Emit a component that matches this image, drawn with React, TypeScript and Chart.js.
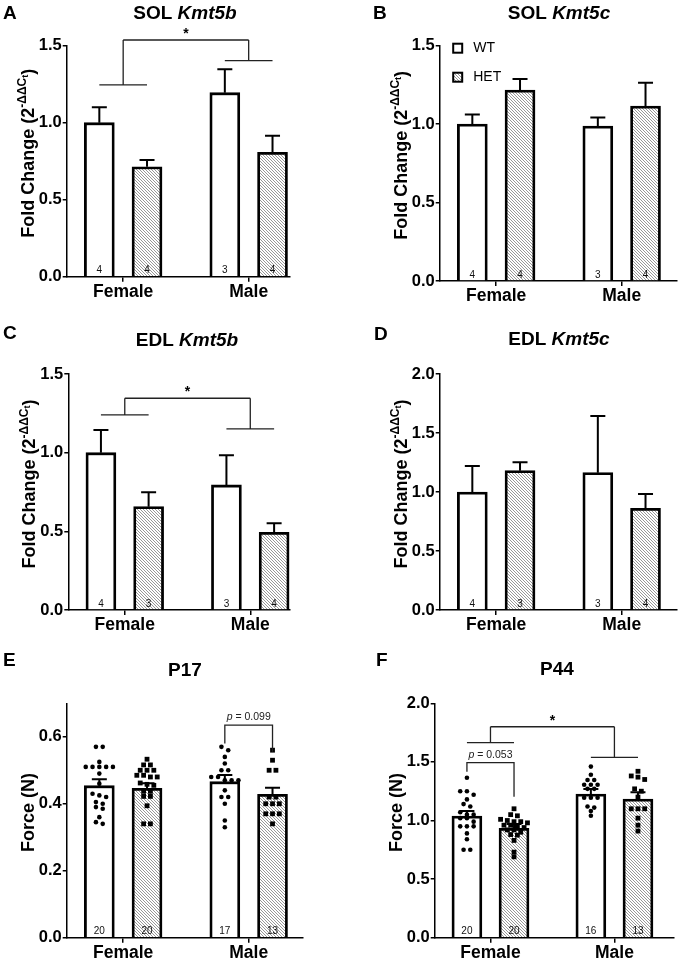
import React, { useEffect, useRef } from "react";
import { Chart, registerables } from "chart.js";

Chart.register(...registerables);

const FF = "'Liberation Sans', Arial, Helvetica, sans-serif";

// ---------------- data ----------------
const groups = ["Female", "Male"];

// A: SOL Kmt5b (fold change, mean and SEM)
const solKmt5bWT = [1.0, 1.195];
const solKmt5bWTSem = [0.1, 0.152];
const solKmt5bHET = [0.714, 0.808];
const solKmt5bHETSem = [0.044, 0.108];
const solKmt5bNWT = [4, 3];
const solKmt5bNHET = [4, 4];

// B: SOL Kmt5c
const solKmt5cWT = [1.0, 0.988];
const solKmt5cWTSem = [0.062, 0.055];
const solKmt5cHET = [1.217, 1.115];
const solKmt5cHETSem = [0.07, 0.149];
const solKmt5cNWT = [4, 3];
const solKmt5cNHET = [4, 4];

// C: EDL Kmt5b
const edlKmt5bWT = [1.0, 0.795];
const edlKmt5bWTSem = [0.144, 0.188];
const edlKmt5bHET = [0.657, 0.494];
const edlKmt5bHETSem = [0.091, 0.057];
const edlKmt5bNWT = [4, 3];
const edlKmt5bNHET = [3, 4];

// D: EDL Kmt5c
const edlKmt5cWT = [1.0, 1.164];
const edlKmt5cWTSem = [0.22, 0.48];
const edlKmt5cHET = [1.181, 0.862];
const edlKmt5cHETSem = [0.071, 0.121];
const edlKmt5cNWT = [4, 3];
const edlKmt5cNHET = [3, 4];

// E: P17 force (N)
const p17WT = [0.454, 0.466];
const p17WTSem = [0.019, 0.02];
const p17HET = [0.446, 0.428];
const p17HETSem = [0.015, 0.02];
const p17NWT = [20, 17];
const p17NHET = [20, 13];
const p17FemaleWTPts = [0.57, 0.57, 0.525, 0.51, 0.51, 0.51, 0.51, 0.51, 0.49, 0.46, 0.43, 0.425, 0.42, 0.405, 0.4, 0.39, 0.385, 0.36, 0.345, 0.34];
const p17FemaleHETPts = [0.533, 0.516, 0.516, 0.5, 0.5, 0.5, 0.485, 0.485, 0.48, 0.48, 0.462, 0.458, 0.455, 0.437, 0.437, 0.422, 0.422, 0.394, 0.34, 0.34];
const p17MaleWTPts = [0.57, 0.56, 0.54, 0.52, 0.5, 0.5, 0.48, 0.48, 0.47, 0.47, 0.47, 0.44, 0.42, 0.42, 0.4, 0.35, 0.33];
const p17MaleHETPts = [0.56, 0.53, 0.5, 0.5, 0.42, 0.42, 0.4, 0.4, 0.4, 0.37, 0.37, 0.37, 0.34];

// F: P44 force (N)
const p44WT = [1.038, 1.226];
const p44WTSem = [0.043, 0.043];
const p44HET = [0.933, 1.183];
const p44HETSem = [0.037, 0.057];
const p44NWT = [20, 16];
const p44NHET = [20, 13];
const p44FemaleWTPts = [1.365, 1.25, 1.25, 1.22, 1.18, 1.14, 1.12, 1.07, 1.05, 1.05, 1.02, 1.02, 0.99, 0.95, 0.95, 0.95, 0.89, 0.84, 0.75, 0.75];
const p44FemaleHETPts = [1.1, 1.05, 1.04, 1.01, 1.0, 0.99, 0.99, 0.98, 0.96, 0.96, 0.95, 0.94, 0.92, 0.92, 0.9, 0.88, 0.875, 0.83, 0.73, 0.69];
const p44MaleWTPts = [1.46, 1.39, 1.345, 1.345, 1.305, 1.305, 1.305, 1.27, 1.27, 1.195, 1.195, 1.195, 1.12, 1.11, 1.08, 1.04];
const p44MaleHETPts = [1.42, 1.38, 1.37, 1.35, 1.27, 1.25, 1.2, 1.1, 1.1, 1.1, 1.02, 0.96, 0.91];

// tick labels
const ticks15 = [0, 0.5, 1.0, 1.5];
const ticks20 = [0, 0.5, 1.0, 1.5, 2.0];
const ticks06 = [0, 0.2, 0.4, 0.6];

// significance annotations (levels in data units)
const solKmt5bSig = { top: 1.537, levels: [1.245, 1.403], label: "*" };
const edlKmt5bSig = { top: 1.346, levels: [1.24, 1.151], label: "*" };
const p44Sig = { top: 1.8, levels: [1.664, 1.539], label: "*" };
const p17P = { group: 1, top: 0.635, left: 0.58, right: 0.555, label: "0.099" };
const p44P = { group: 0, top: 1.493, left: 1.416, right: 1.203, label: "0.053" };

// ---------------- layout ----------------
const OFF = 0.19; // bar offset from group centre (group units)
const BAR = 30; // bar thickness px
const GROUP_PX = 125.5; // px between group centres
const XMIN = -0.45;

type Sig = { top: number; levels: number[]; label: string };
type PBr = { group: number; top: number; left: number; right: number; label: string };
type Spec = {
  letter: string;
  letterAt: number[];
  title: string;
  titleItalic: string;
  titleAt: number[];
  yTitle: "fold" | "force";
  ticks: number[];
  yMax: number;
  wt: number[];
  wtSem: number[];
  het: number[];
  hetSem: number[];
  nWT: number[];
  nHET: number[];
  wtPts?: number[][];
  hetPts?: number[][];
  sig?: Sig;
  pbr?: PBr;
  legend?: boolean;
  box: number[]; // canvas x, y, w, h (page)
  area: number[]; // plot L, T, R, B (page)
};

const panels: Spec[] = [
  {
    letter: "A", letterAt: [3, 14], title: "SOL ", titleItalic: "Kmt5b", titleAt: [185, 13.5],
    yTitle: "fold", ticks: ticks15, yMax: 1.5,
    wt: solKmt5bWT, wtSem: solKmt5bWTSem, het: solKmt5bHET, hetSem: solKmt5bHETSem,
    nWT: solKmt5bNWT, nHET: solKmt5bNHET, sig: solKmt5bSig,
    box: [0, 0, 339, 318], area: [66.7, 45.7, 290, 276.7],
  },
  {
    letter: "B", letterAt: [373, 14], title: "SOL ", titleItalic: "Kmt5c", titleAt: [559, 13.5],
    yTitle: "fold", ticks: ticks15, yMax: 1.5,
    wt: solKmt5cWT, wtSem: solKmt5cWTSem, het: solKmt5cHET, hetSem: solKmt5cHETSem,
    nWT: solKmt5cNWT, nHET: solKmt5cNHET, legend: true,
    box: [339, 0, 339, 318], area: [439.7, 45.7, 677, 281],
  },
  {
    letter: "C", letterAt: [3, 333.5], title: "EDL ", titleItalic: "Kmt5b", titleAt: [187, 340.5],
    yTitle: "fold", ticks: ticks15, yMax: 1.5,
    wt: edlKmt5bWT, wtSem: edlKmt5bWTSem, het: edlKmt5bHET, hetSem: edlKmt5bHETSem,
    nWT: edlKmt5bNWT, nHET: edlKmt5bNHET, sig: edlKmt5bSig,
    box: [0, 318, 339, 322], area: [68.3, 374, 290, 610],
  },
  {
    letter: "D", letterAt: [374, 335], title: "EDL ", titleItalic: "Kmt5c", titleAt: [559, 340],
    yTitle: "fold", ticks: ticks20, yMax: 2.0,
    wt: edlKmt5cWT, wtSem: edlKmt5cWTSem, het: edlKmt5cHET, hetSem: edlKmt5cHETSem,
    nWT: edlKmt5cNWT, nHET: edlKmt5cNHET,
    box: [339, 318, 339, 322], area: [439.7, 374, 677, 610],
  },
  {
    letter: "E", letterAt: [3, 661], title: "P17", titleItalic: "", titleAt: [185, 671],
    yTitle: "force", ticks: ticks06, yMax: 0.7,
    wt: p17WT, wtSem: p17WTSem, het: p17HET, hetSem: p17HETSem,
    nWT: p17NWT, nHET: p17NHET,
    wtPts: [p17FemaleWTPts, p17MaleWTPts], hetPts: [p17FemaleHETPts, p17MaleHETPts],
    pbr: p17P,
    box: [0, 640, 339, 323], area: [66.7, 703.3, 303, 937.7],
  },
  {
    letter: "F", letterAt: [376, 661], title: "P44", titleItalic: "", titleAt: [557, 670],
    yTitle: "force", ticks: ticks20, yMax: 2.0,
    wt: p44WT, wtSem: p44WTSem, het: p44HET, hetSem: p44HETSem,
    nWT: p44NWT, nHET: p44NHET,
    wtPts: [p44FemaleWTPts, p44MaleWTPts], hetPts: [p44FemaleHETPts, p44MaleHETPts],
    sig: p44Sig, pbr: p44P,
    box: [339, 640, 339, 323], area: [434.7, 703.3, 677, 937.7],
  },
];

// ---------------- helpers ----------------
function makeHatch(): CanvasPattern | string {
  const p = 3;
  const c = document.createElement("canvas");
  c.width = p;
  c.height = p;
  const g = c.getContext("2d");
  if (!g) return "#c8c8c8";
  g.fillStyle = "#fff";
  g.fillRect(0, 0, p, p);
  g.strokeStyle = "#8c8c8c";
  g.lineWidth = 0.9;
  g.beginPath();
  g.moveTo(-1, -1);
  g.lineTo(p + 1, p + 1);
  g.moveTo(-1, p - 1);
  g.lineTo(1, p + 1);
  g.moveTo(p - 1, -1);
  g.lineTo(p + 1, 1);
  g.stroke();
  return g.createPattern(c, "repeat") || "#c8c8c8";
}

// simple row-binned beeswarm (like GraphPad scatter-dot layout)
function swarm(vals: number[], cx: number, pxPerX: number, pxPerY: number) {
  const sorted = [...vals].sort((a, b) => b - a);
  const binH = 3.6 / pxPerY;
  const step = 6.8 / pxPerX;
  const out: { x: number; y: number }[] = [];
  let i = 0;
  while (i < sorted.length) {
    const start = sorted[i];
    let j = i;
    while (j < sorted.length && start - sorted[j] <= binH + 1e-9 && j - i < 5) j++;
    const k = j - i;
    for (let m = 0; m < k; m++) out.push({ x: cx + (m - (k - 1) / 2) * step, y: sorted[i + m] });
    i = j;
  }
  return out;
}

function makeDecor(spec: Spec, hatch: CanvasPattern | string) {
  return {
    id: "decor" + spec.letter,
    afterDatasetsDraw(chart: any) {
      const ctx: CanvasRenderingContext2D = chart.ctx;
      const xs = chart.scales.x;
      const ys = chart.scales.y;
      const X = (v: number) => xs.getPixelForValue(v);
      const Y = (v: number) => ys.getPixelForValue(v);
      const [bx, by] = spec.box;
      const area = chart.chartArea;
      ctx.save();

      // error bars (mean + SEM)
      ctx.strokeStyle = "#000";
      ctx.lineWidth = 2;
      const drawErr = (vals: number[], sems: number[], off: number) =>
        vals.forEach((m, i) => {
          const x = X(i + off);
          const y0 = Y(m);
          const y1 = Y(m + sems[i]);
          ctx.beginPath();
          ctx.moveTo(x, y0);
          ctx.lineTo(x, y1);
          ctx.moveTo(x - 7.5, y1);
          ctx.lineTo(x + 7.5, y1);
          ctx.stroke();
        });
      drawErr(spec.wt, spec.wtSem, -OFF);
      drawErr(spec.het, spec.hetSem, OFF);

      // n labels
      ctx.fillStyle = "#111";
      ctx.font = `10px ${FF}`;
      ctx.textAlign = "center";
      ctx.textBaseline = "middle";
      spec.nWT.forEach((n, i) => ctx.fillText(String(n), X(i - OFF), area.bottom - 6));
      spec.nHET.forEach((n, i) => ctx.fillText(String(n), X(i + OFF), area.bottom - 6));

      // group significance bracket
      ctx.strokeStyle = "#222";
      ctx.lineWidth = 1.3;
      if (spec.sig) {
        const s = spec.sig;
        const yt = Y(s.top);
        ctx.beginPath();
        s.levels.forEach((lv, g) => {
          const yl = Y(lv);
          ctx.moveTo(X(g - OFF), yl);
          ctx.lineTo(X(g + OFF), yl);
          ctx.moveTo(X(g), yl);
          ctx.lineTo(X(g), yt);
        });
        ctx.moveTo(X(0), yt);
        ctx.lineTo(X(1), yt);
        ctx.stroke();
        ctx.fillStyle = "#000";
        ctx.font = `bold 14px ${FF}`;
        ctx.textAlign = "center";
        ctx.textBaseline = "middle";
        ctx.fillText(s.label, (X(0) + X(1)) / 2, yt - 6);
      }
      // pairwise p bracket
      if (spec.pbr) {
        const p = spec.pbr;
        const xl = X(p.group - OFF);
        const xr = X(p.group + OFF);
        const yt = Y(p.top);
        ctx.beginPath();
        ctx.moveTo(xl, Y(p.left));
        ctx.lineTo(xl, yt);
        ctx.lineTo(xr, yt);
        ctx.lineTo(xr, Y(p.right));
        ctx.stroke();
        const f1 = `italic 10.5px ${FF}`;
        const f2 = `10.5px ${FF}`;
        const t2 = " = " + p.label;
        ctx.font = f1;
        const w1 = ctx.measureText("p").width;
        ctx.font = f2;
        const w2 = ctx.measureText(t2).width;
        const x = (xl + xr) / 2 - (w1 + w2) / 2;
        ctx.fillStyle = "#222";
        ctx.textAlign = "left";
        ctx.textBaseline = "middle";
        ctx.font = f1;
        ctx.fillText("p", x, yt - 8);
        ctx.font = f2;
        ctx.fillText(t2, x + w1, yt - 8);
      }

      // legend
      if (spec.legend) {
        const lx = area.left + 13.5;
        const rows: [string, CanvasPattern | string, number][] = [
          ["WT", "#fff", area.top + 2.5],
          ["HET", hatch, area.top + 31.5],
        ];
        rows.forEach(([label, fill, cy]) => {
          ctx.fillStyle = fill as any;
          ctx.fillRect(lx, cy - 4.5, 9, 9);
          ctx.strokeStyle = "#000";
          ctx.lineWidth = 2;
          ctx.strokeRect(lx, cy - 4.5, 9, 9);
          ctx.fillStyle = "#000";
          ctx.font = `14px ${FF}`;
          ctx.textAlign = "left";
          ctx.textBaseline = "middle";
          ctx.fillText(label, lx + 20, cy);
        });
      }

      // panel letter
      ctx.fillStyle = "#000";
      ctx.font = `bold 19px ${FF}`;
      ctx.textAlign = "left";
      ctx.textBaseline = "middle";
      ctx.fillText(spec.letter, spec.letterAt[0] - bx, spec.letterAt[1] - by);

      // title
      {
        const f1 = `bold 19px ${FF}`;
        const f2 = `italic bold 19px ${FF}`;
        ctx.font = f1;
        const w1 = ctx.measureText(spec.title).width;
        ctx.font = f2;
        const w2 = spec.titleItalic ? ctx.measureText(spec.titleItalic).width : 0;
        const x0 = spec.titleAt[0] - bx - (w1 + w2) / 2;
        const ty = spec.titleAt[1] - by;
        ctx.font = f1;
        ctx.fillText(spec.title, x0, ty);
        if (spec.titleItalic) {
          ctx.font = f2;
          ctx.fillText(spec.titleItalic, x0 + w1, ty);
        }
      }

      // y-axis title (rotated)
      {
        const cx = area.left - 38;
        const cy = (area.top + area.bottom) / 2 - 8;
        ctx.translate(cx, cy);
        ctx.rotate(-Math.PI / 2);
        ctx.fillStyle = "#000";
        ctx.textBaseline = "middle";
        ctx.textAlign = "left";
        const big = `bold 18px ${FF}`;
        const parts: [string, string, number][] =
          spec.yTitle === "force"
            ? [["Force (N)", big, 0]]
            : [
                ["Fold Change (2", big, 0],
                ["-ΔΔC", `bold 12px ${FF}`, -6],
                ["t", `bold 9px ${FF}`, -3],
                [")", big, 0],
              ];
        let total = 0;
        const widths = parts.map(([t, f]) => {
          ctx.font = f;
          const w = ctx.measureText(t).width;
          total += w;
          return w;
        });
        let x = -total / 2;
        parts.forEach(([t, f, dy], i) => {
          ctx.font = f;
          ctx.fillText(t, x, dy);
          x += widths[i];
        });
      }
      ctx.restore();
    },
  };
}

function buildConfig(spec: Spec, hatch: CanvasPattern | string): any {
  const [bx, by, bw, bh] = spec.box;
  const [L, T, R, B] = spec.area;
  const xMax = XMIN + (R - L) / GROUP_PX;
  const pxPerY = (B - T) / spec.yMax;
  const datasets: any[] = [];
  const ptsCommon = { type: "scatter", backgroundColor: "#000", borderWidth: 0, order: 0, clip: false, showLine: false };
  if (spec.wtPts)
    spec.wtPts.forEach((vals, i) =>
      datasets.push({ ...ptsCommon, data: swarm(vals, i - OFF, GROUP_PX, pxPerY), pointStyle: "circle", pointRadius: 2.3 })
    );
  if (spec.hetPts)
    spec.hetPts.forEach((vals, i) =>
      datasets.push({ ...ptsCommon, data: swarm(vals, i + OFF, GROUP_PX, pxPerY), pointStyle: "rect", pointRadius: 3.4 })
    );
  const barCommon = { type: "bar", borderColor: "#000", borderWidth: 2.8, barThickness: BAR, grouped: false, order: 1 };
  datasets.push({ ...barCommon, label: "WT", backgroundColor: "#fff", data: spec.wt.map((v, i) => ({ x: i - OFF, y: v })) });
  datasets.push({ ...barCommon, label: "HET", backgroundColor: hatch, data: spec.het.map((v, i) => ({ x: i + OFF, y: v })) });

  return {
    type: "bar",
    data: { datasets },
    options: {
      responsive: false,
      maintainAspectRatio: false,
      animation: false,
      events: [],
      layout: { padding: { top: T - by, right: bx + bw - R, left: 0, bottom: 0 } },
      plugins: { legend: { display: false }, tooltip: { enabled: false }, title: { display: false } },
      scales: {
        x: {
          type: "linear",
          min: XMIN,
          max: xMax,
          offset: false,
          z: 1,
          afterBuildTicks: (s: any) => {
            s.ticks = groups.map((_, i) => ({ value: i }));
          },
          afterFit: (s: any) => {
            s.height = by + bh - B;
          },
          grid: { display: true, offset: false, drawOnChartArea: false, drawTicks: true, tickLength: 5, tickWidth: 1.5, tickColor: "#000", color: "#000", lineWidth: 1.5 },
          border: { display: true, color: "#000", width: 1.5 },
          ticks: {
            color: "#000",
            padding: 0,
            autoSkip: false,
            maxRotation: 0,
            font: { family: FF, size: 17.5, weight: "bold" },
            callback: (v: any) => groups[Math.round(Number(v))] ?? "",
          },
        },
        y: {
          type: "linear",
          min: 0,
          max: spec.yMax,
          afterBuildTicks: (s: any) => {
            s.ticks = spec.ticks.map((v) => ({ value: v }));
          },
          afterFit: (s: any) => {
            s.width = L - bx;
          },
          grid: { display: true, drawOnChartArea: false, drawTicks: true, tickLength: 4, tickWidth: 1.5, tickColor: "#000", color: "#000", lineWidth: 1.5 },
          border: { display: true, color: "#000", width: 1.5 },
          ticks: {
            color: "#000",
            padding: 1,
            font: { family: FF, size: 16.5, weight: "bold" },
            callback: (v: any) => Number(v).toFixed(1),
          },
        },
      },
    },
    plugins: [makeDecor(spec, hatch)],
  };
}

function Panel({ spec }: { spec: Spec }) {
  const ref = useRef<HTMLCanvasElement>(null);
  useEffect(() => {
    const c = ref.current;
    if (!c) return;
    const hatch = makeHatch();
    const chart = new Chart(c, buildConfig(spec, hatch));
    return () => chart.destroy();
  }, [spec]);
  const [bx, by, bw, bh] = spec.box;
  return (
    <canvas
      ref={ref}
      width={bw}
      height={bh}
      style={{ position: "absolute", left: bx, top: by, width: bw, height: bh }}
    />
  );
}

export default function App() {
  return (
    <div style={{ position: "absolute", left: 0, top: 0, width: 678, height: 963, background: "#fff", overflow: "hidden" }}>
      {panels.map((p) => (
        <Panel key={p.letter} spec={p} />
      ))}
    </div>
  );
}
